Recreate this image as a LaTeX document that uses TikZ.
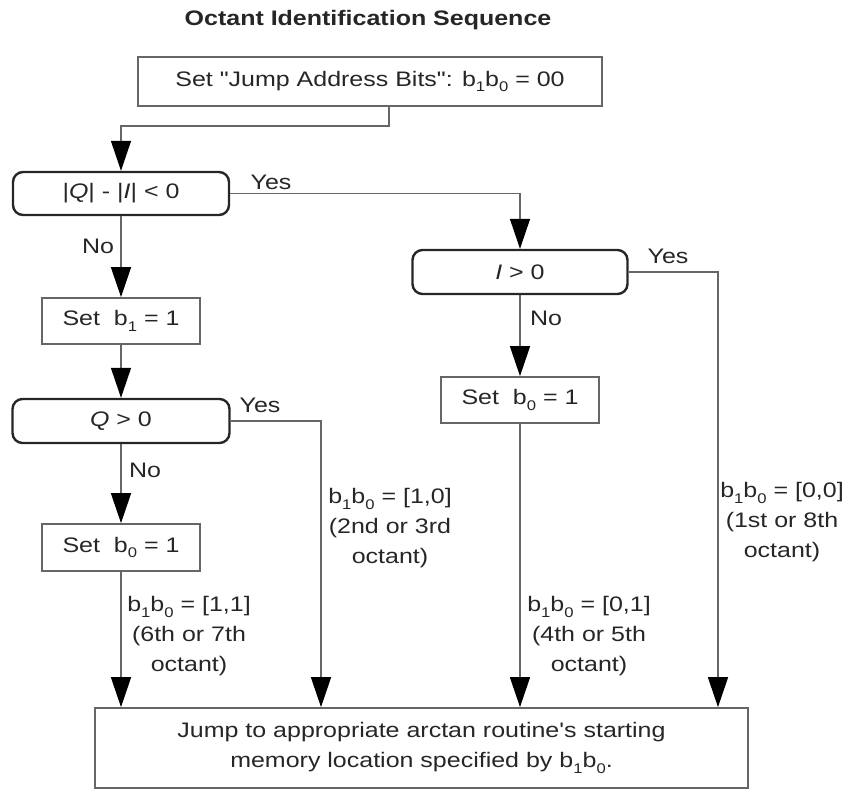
\documentclass[tikz,border=0pt]{standalone}
\usepackage{fontspec}
\defaultfontfeatures[\rmfamily]{}
\defaultfontfeatures{}
\setmainfont{Liberation Sans}[FakeStretch=1.19]
\usetikzlibrary{arrows.meta}
\newcommand{\bsb}[1]{\raisebox{-0.28em}{\fontsize{10.5pt}{10.5pt}\selectfont #1}}
\begin{document}
\begin{tikzpicture}[x=0.75pt,y=-0.75pt,
  every node/.style={font=\fontsize{15.75pt}{22.5pt}\selectfont, text=black!85, inner sep=0pt},
  box/.style={draw=black!60, line width=1.3pt},
  decision/.style={draw=black!85, line width=1.8pt, rounded corners=7.5pt},
  arr/.style={draw=black!60, line width=1.1pt, -{Triangle[length=22.5pt,width=15pt,color=black]}},
  lab/.style={align=center}]
\useasboundingbox (0,0) rectangle (851,792);
% title
\node[font=\bfseries\fontsize{15.75pt}{18pt}\selectfont] (title) at (368,20) {Octant Identification Sequence};
% boxes
\node[box, minimum width={464*0.75pt}, minimum height={49*0.75pt}] (top) at (370,81.5) {Set "Jump Address Bits": b\bsb{1}b\bsb{0} = 00};
\node[decision, minimum width={216*0.75pt}, minimum height={43*0.75pt}] (d1) at (121,193.5) {|\textit{Q}| - |\textit{I}| < 0};
\node[box, minimum width={158*0.75pt}, minimum height={46*0.75pt}] (sb1) at (121,321) {Set\ \ b\bsb{1} = 1};
\node[decision, minimum width={217*0.75pt}, minimum height={44*0.75pt}] (d3) at (121,421) {\textit{Q} > 0};
\node[box, minimum width={158*0.75pt}, minimum height={47*0.75pt}] (sb0l) at (121,547.5) {Set\ \ b\bsb{0} = 1};
\node[decision, minimum width={215*0.75pt}, minimum height={44*0.75pt}] (d2) at (520,272) {\textit{I} > 0};
\node[box, minimum width={158*0.75pt}, minimum height={46*0.75pt}] (sb0r) at (520,400) {Set\ \ b\bsb{0} = 1};
\node[box, minimum width={653*0.75pt}, minimum height={80*0.75pt}, align=center] (bot) at (421.5,748) {Jump to appropriate arctan routine's starting\\memory location specified by b\bsb{1}b\bsb{0}.};
% helper coordinates
\coordinate (j1) at (389,126);
\coordinate (x2) at (321,0);
\coordinate (x4) at (718,0);
% connectors
\draw[arr] (top.south -| j1) -- (j1) -| (d1.north);
\draw[arr] (d1.east) -| (d2.north);
\draw[arr] (d1.south) -- (sb1.north);
\draw[arr] (sb1.south) -- (d3.north);
\draw[arr] (d3.east) -| (bot.north -| x2);
\draw[arr] (d3.south) -- (sb0l.north);
\draw[arr] (sb0l.south) -- (bot.north -| sb0l.south);
\draw[arr] (d2.south) -- (sb0r.north);
\draw[arr] (sb0r.south) -- (bot.north -| sb0r.south);
\draw[arr] (d2.east) -| (bot.north -| x4);
% Yes / No labels
\node (y1) at (271,182) {Yes};
\node (n1) at (98,246) {No};
\node (y3) at (260,405) {Yes};
\node (n3) at (145,470) {No};
\node (y2) at (668,256) {Yes};
\node (n2) at (546,318) {No};
% branch labels
\node[lab] (l11) at (189,636) {b\bsb{1}b\bsb{0} = [1,1]\\(6th or 7th\\octant)};
\node[lab] (l10) at (390,528) {b\bsb{1}b\bsb{0} = [1,0]\\(2nd or 3rd\\octant)};
\node[lab] (l01) at (589,636) {b\bsb{1}b\bsb{0} = [0,1]\\(4th or 5th\\octant)};
\node[lab] (l00) at (782,522) {b\bsb{1}b\bsb{0} = [0,0]\\(1st or 8th\\octant)};
\end{tikzpicture}
\end{document}
